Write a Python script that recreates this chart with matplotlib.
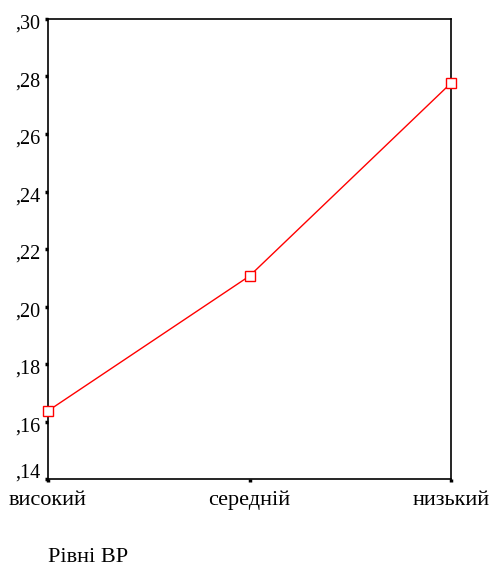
import matplotlib.pyplot as plt
from matplotlib.transforms import ScaledTranslation

levels = ['високий', 'середній', 'низький']
means = [0.1637, 0.2106, 0.2777]
yticks = [0.14, 0.16, 0.18, 0.20, 0.22, 0.24, 0.26, 0.28, 0.30]
ytick_labels = [',14', ',16', ',18', ',20', ',22', ',24', ',26', ',28', ',30']

plt.rcParams['font.family'] = ['Liberation Serif', 'DejaVu Serif']

fig = plt.figure(figsize=(4.91, 5.68), dpi=100)
ax = fig.add_axes([48/491, 1-479/568, 403/491, 460/568])

x = list(range(len(levels)))
ax.plot(x, means, color='#ff0000', linewidth=1.0, marker='s', markersize=7,
        markerfacecolor='white', markeredgecolor='#ff0000', markeredgewidth=1.0,
        clip_on=False, zorder=5)

ax.set_xlim(0, len(levels)-1)
ax.set_ylim(0.14, 0.30)
ax.set_xticks(x)
ax.set_xticklabels(levels, fontsize=16)
ax.set_yticks(yticks)
ax.set_yticklabels(ytick_labels, fontsize=14.5)
ax.tick_params(axis='both', direction='out', length=2.5, width=2.5, color='black', pad=3)
ax.tick_params(axis='x', pad=6)
for s in ax.spines.values():
    s.set_linewidth(1.2)
    s.set_color('black')

# labels sit a little below their ticks; the lowest one is lifted above the x labels
for i, lab in enumerate(ax.get_yticklabels()):
    dy = 8/100 if i == 0 else -3/100
    lab.set_transform(lab.get_transform() + ScaledTranslation(0, dy, fig.dpi_scale_trans))

fig.text(48/491, 1-562/568, 'Рівні ВР', fontsize=16, ha='left', va='baseline')

fig.savefig('out.png', dpi=100)
